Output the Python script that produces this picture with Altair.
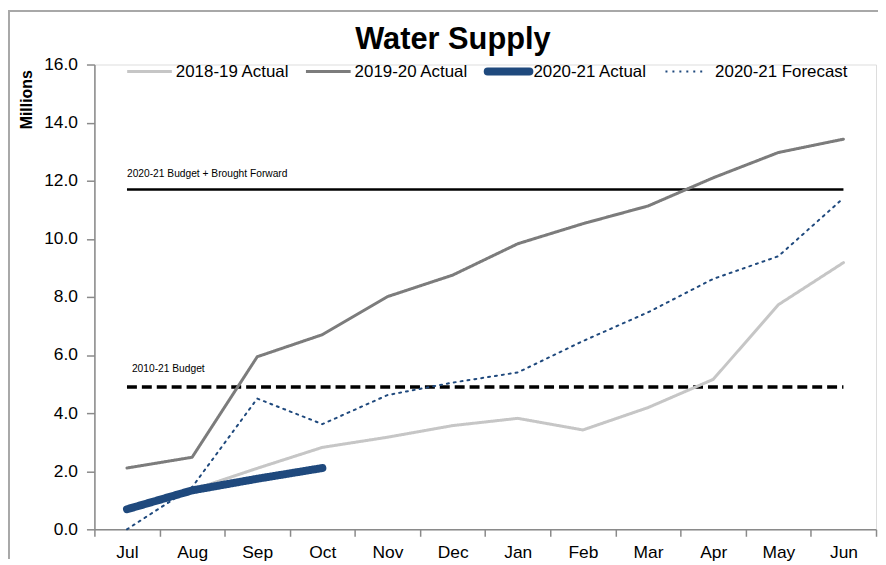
import altair as alt
import pandas as pd

months = ["Jul", "Aug", "Sep", "Oct", "Nov", "Dec", "Jan", "Feb", "Mar", "Apr", "May", "Jun"]
series_names = ["2018-19 Actual", "2019-20 Actual", "2020-21 Actual", "2020-21 Forecast"]

actual_1819 = [0.68, 1.35, 2.10, 2.82, 3.17, 3.57, 3.82, 3.42, 4.19, 5.16, 7.73, 9.18]
actual_1920 = [2.11, 2.48, 5.94, 6.70, 8.01, 8.75, 9.83, 10.52, 11.13, 12.10, 12.97, 13.43]
actual_2021 = [0.69, 1.34, 1.74, 2.11]
forecast_2021 = [0.00, 1.45, 4.50, 3.62, 4.62, 5.05, 5.40, 6.48, 7.47, 8.62, 9.40, 11.40]

budget_bf = 11.7
budget = 4.9
budget_bf_label = "2020-21 Budget + Brought Forward"
budget_label = "2010-21 Budget"

series_colors = ["#c6c6c6", "#7c7c7c", "#1f497d", "#1f497d"]
series_widths = [3, 3, 8, 2]
series_dashes = [[1, 0], [1, 0], [1, 0], [2, 5]]

rows = []
for name, vals in zip(series_names, [actual_1819, actual_1920, actual_2021, forecast_2021]):
    for m, v in zip(months, vals):
        rows.append({"month": m, "value": v, "series": name})
df = pd.DataFrame(rows)

bf_df = pd.DataFrame({"month": months, "value": [budget_bf] * len(months)})
b_df = pd.DataFrame({"month": months, "value": [budget] * len(months)})
lab_df = pd.DataFrame({"month": [months[0], months[0]], "value": [budget_bf, budget],
                       "label": [budget_bf_label, budget_label], "which": ["bf", "b"]})

FONT = "Liberation Sans"
W, H = 787, 468

xenc = alt.X("month:N", sort=months, bandPosition=0.5,
             scale=alt.Scale(type="band", domain=months, paddingInner=0, paddingOuter=0),
             axis=alt.Axis(title=None, tickBand="extent", labelAngle=0, tickSize=7, labelPadding=7,
                           domainColor="#8a8a8a", tickColor="#8a8a8a", domainWidth=1.5, tickWidth=1.5,
                           labelFontSize=17.5, labelFont=FONT, labelColor="#000", grid=False))
yenc = alt.Y("value:Q", scale=alt.Scale(domain=[0, 16], nice=False),
             axis=alt.Axis(title="Millions", values=list(range(0, 17, 2)), format=".1f",
                           tickSize=8, labelPadding=9, domainColor="#8a8a8a", tickColor="#8a8a8a",
                           domainWidth=1.5, tickWidth=1.5, labelFontSize=17.5, labelFont=FONT,
                           labelColor="#000", grid=False,
                           titleAngle=270, titleX=-68, titleY=35, titleAlign="center",
                           titleBaseline="middle", titleFont=FONT, titleFontSize=16,
                           titleFontWeight="bold", titleColor="#000"))

lines = alt.Chart(df).mark_line(strokeCap="round", strokeJoin="round").encode(
    x=xenc, y=yenc,
    color=alt.Color("series:N", scale=alt.Scale(domain=series_names, range=series_colors), legend=None),
    strokeDash=alt.StrokeDash("series:N", scale=alt.Scale(domain=series_names, range=series_dashes), legend=None),
    strokeWidth=alt.StrokeWidth("series:N", scale=alt.Scale(type="ordinal", domain=series_names, range=series_widths), legend=None),
)

bf_line = alt.Chart(bf_df).mark_line(color="#000", strokeWidth=2.5).encode(x=xenc, y=yenc)
b_line = alt.Chart(b_df).mark_line(color="#000", strokeWidth=3.5, strokeDash=[10, 5]).encode(x=xenc, y=yenc)

bf_text = alt.Chart(lab_df[lab_df.which == "bf"]).mark_text(
    align="left", baseline="alphabetic", dy=-13, dx=0, fontSize=10.3, font=FONT, color="#000"
).encode(x=xenc, y=yenc, text="label:N")
b_text = alt.Chart(lab_df[lab_df.which == "b"]).mark_text(
    align="left", baseline="alphabetic", dy=-15, dx=5, fontSize=10.3, font=FONT, color="#000"
).encode(x=xenc, y=yenc, text="label:N")

title = alt.Chart(alt.Data(values=[{}])).mark_text(
    align="center", baseline="alphabetic", fontSize=31, fontWeight="bold", font=FONT, color="#000"
).encode(x=alt.value(361), y=alt.value(-16), text=alt.value("Water Supply"))

# manual legend (layout only; labels and styles come from the series lists)
leg_sym_start = [33, 213, 396, 575]
leg_sym_len = [45, 45, 42, 40]
leg_text_start = [82, 262, 442, 625]
LEG_Y = 7
legend_layers = []
for i, name in enumerate(series_names):
    legend_layers.append(
        alt.Chart(alt.Data(values=[{}])).mark_rule(
            color=series_colors[i], strokeWidth=series_widths[i], strokeDash=series_dashes[i],
            strokeCap="round" if series_widths[i] > 5 else "butt"
        ).encode(x=alt.value(leg_sym_start[i]), x2=alt.value(leg_sym_start[i] + leg_sym_len[i]),
                 y=alt.value(LEG_Y))
    )
    legend_layers.append(
        alt.Chart(alt.Data(values=[{}])).mark_text(
            align="left", baseline="middle", fontSize=17, font=FONT, color="#000"
        ).encode(x=alt.value(leg_text_start[i]), y=alt.value(LEG_Y + 1), text=alt.value(name))
    )

frame_left = alt.Chart(alt.Data(values=[{}])).mark_rule(color="#a8a8a8", strokeWidth=2).encode(
    x=alt.value(-86), y=alt.value(-55), y2=alt.value(H + 30))
frame_top = alt.Chart(alt.Data(values=[{}])).mark_rule(color="#a8a8a8", strokeWidth=2).encode(
    x=alt.value(-87), x2=alt.value(W + 2), y=alt.value(-54))

chart = alt.layer(frame_left, frame_top, bf_line, b_line, bf_text, b_text, lines, title,
                  *legend_layers).properties(
    width=W, height=H,
    autosize=alt.AutoSizeParams(type="none"),
    padding={"left": 87, "top": 55, "right": 2, "bottom": 30},
).configure_view(stroke=None).configure(background="white")

chart.save("out.html", embed_options={"renderer": "svg", "actions": False})
